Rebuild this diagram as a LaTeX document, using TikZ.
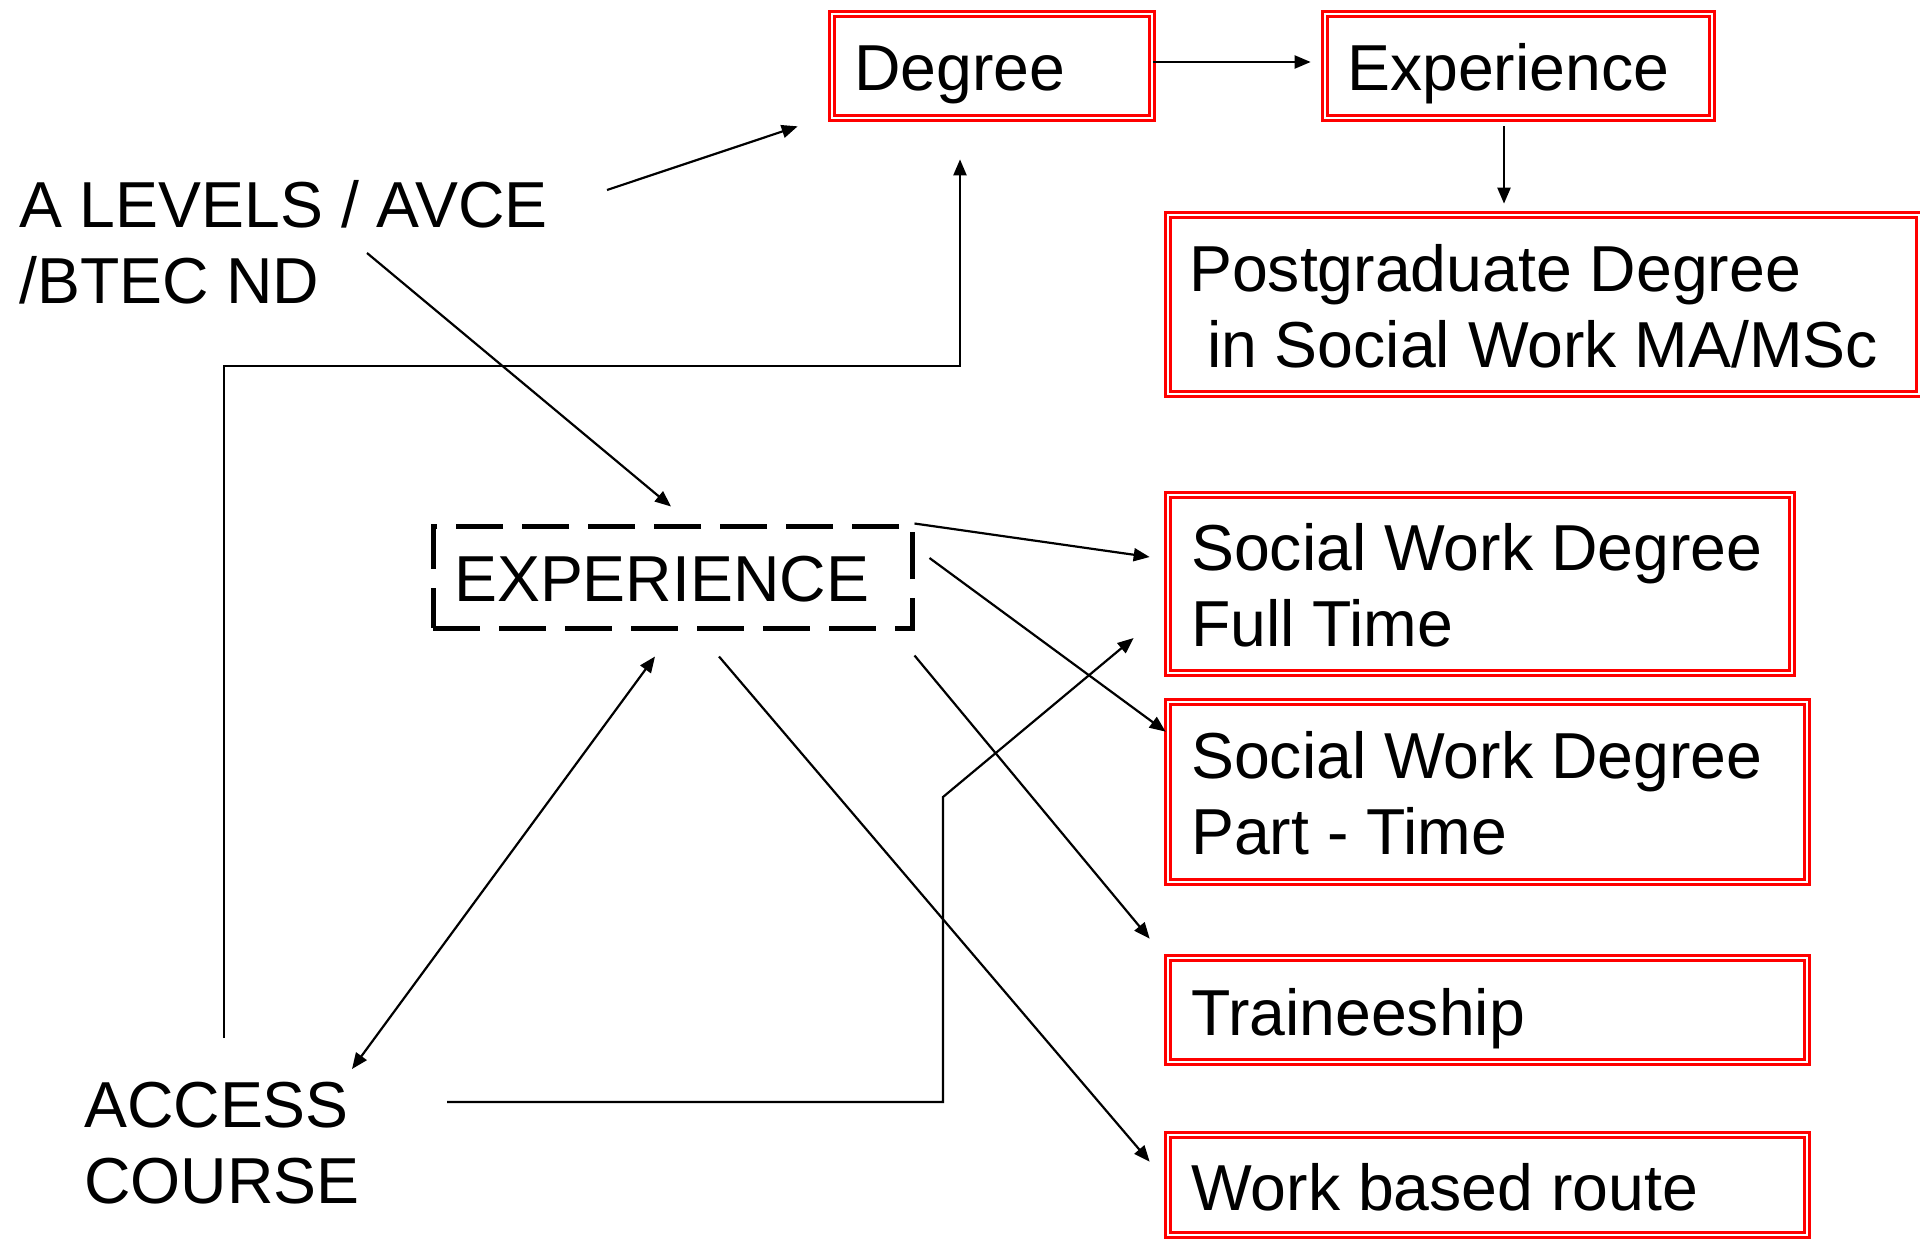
\documentclass[tikz,border=0pt]{standalone}
\usepackage{fontspec}
\setmainfont{Liberation Sans}[FakeStretch=0.99]
\usetikzlibrary{arrows.meta,calc}
\begin{document}
\begin{tikzpicture}[x=1pt,y=-1pt,
  >={Triangle[length=16pt,width=13pt]},
  redbox/.style={rectangle, draw=red, double=white, line width=2.7pt, double distance=2.4pt, inner sep=0pt},
  dashbox/.style={rectangle, draw=black, line width=5pt, dash pattern=on 47pt off 19pt, inner sep=0pt},
  txt/.style={anchor=base west, inner sep=0pt, align=left, font=\fontsize{65pt}{76pt}\selectfont},
  conn/.style={draw=black, line width=2.2pt}]
\useasboundingbox (0,0) rectangle (1920,1240);
\fill[white] (0,0) rectangle (1920,1240);

% boxes
\node[redbox, minimum width=320pt, minimum height=104pt] (Degree) at (992,66) {};
\node[redbox, minimum width=387pt, minimum height=104pt] (ExpTop) at (1518.5,66) {};
\node[redbox, minimum width=751pt, minimum height=179pt] (Postgrad) at (1543.5,304.5) {};
\node[redbox, minimum width=624pt, minimum height=178pt] (SWFT) at (1480,584) {};
\node[redbox, minimum width=639pt, minimum height=180pt] (SWPT) at (1487.5,792) {};
\node[redbox, minimum width=639pt, minimum height=104pt] (Trainee) at (1487.5,1010) {};
\node[redbox, minimum width=639pt, minimum height=100pt] (Work) at (1487.5,1185) {};
\node[dashbox, minimum width=479pt, minimum height=102pt] (Exp) at (672.5,577) {};

% texts (base = baseline of the last line)
\node[txt] (tALev) at (19,303) {A LEVELS / AVCE\\/BTEC ND};
\node[txt] (tAcc) at (84,1203) {ACCESS\\COURSE};
\node[txt] (tExp) at (454,601) {EXPERIENCE};
\node[txt] (tDeg) at (854,90) {Degree};
\node[txt] (tExpT) at (1347,90) {Experience};
\node[txt] (tPG) at (1189,367) {Postgraduate Degree\\\ in Social Work MA/MSc};
\node[txt] (tFT) at (1191,646) {Social Work Degree\\Full Time};
\node[txt] (tPT) at (1191,854) {Social Work Degree\\Part - Time};
\node[txt] (tTr) at (1191,1035) {Traineeship};
\node[txt] (tWb) at (1191,1210) {Work based route};

% connectors
\draw[conn,->] ($(Degree.east)+(0,-4)$) -- ($(ExpTop.west)+(-13,-4)$);
\draw[conn,->] ($(ExpTop.south)+(-14.5,7)$) -- ($(Postgrad.north)+(-39.5,-10)$);
\draw[conn,->] ($(tALev.base west)+(588,-113)$) -- ($(Degree.south west)+(-33,7)$);
\draw[conn,->] ($(tALev.base west)+(348,-50)$) -- ($(Exp.north)+(-1.5,-17)$);
\draw[conn,->] ($(tAcc.base west)+(140,-165)$) -- ++(0,-672) -| ($(Degree.south)+(-32,40)$);
\draw[conn,<->] ($(tAcc.base west)+(268,-134)$) -- ($(Exp.south)+(-17.5,26)$);
\draw[conn,->] ($(tAcc.base west)+(363,-101)$) -- ++(496,0) -- ++(0,-305) -- ($(SWFT.west)+(-33,54)$);
\draw[conn,->] (Exp.north east) -- ($(SWFT.west)+(-17,-27)$);
\draw[conn,->] ($(Exp.east)+(15,-19)$) -- ($(SWPT.north west)+(-1,31)$);
\draw[conn,->] ($(Exp.south east)+(0,25)$) -- ($(Trainee.north west)+(-17,-18)$);
\draw[conn,->] ($(Exp.south)+(46.5,26)$) -- ($(Work.north west)+(-17,28)$);
\end{tikzpicture}
\end{document}
